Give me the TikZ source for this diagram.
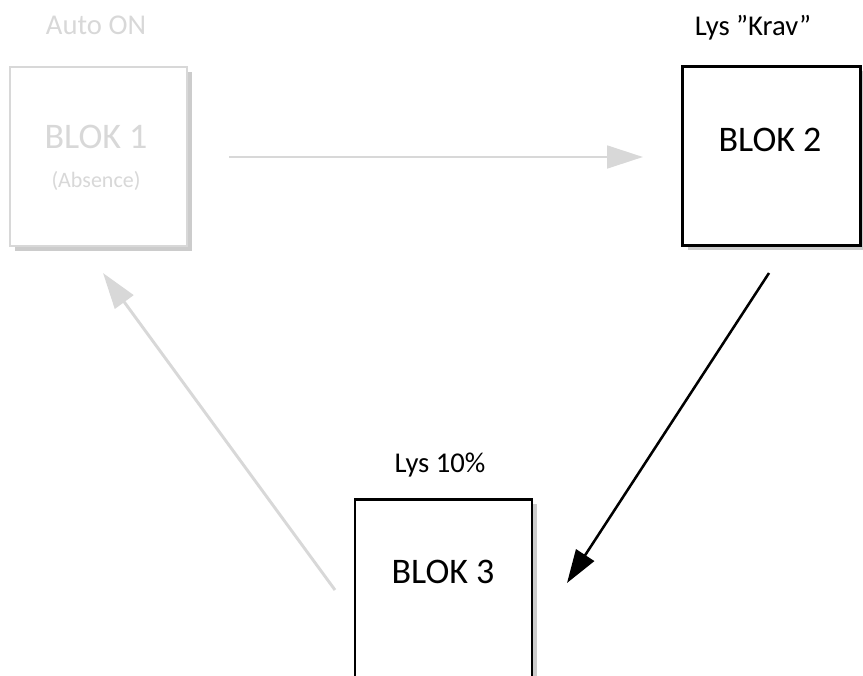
\documentclass[tikz,border=0pt]{standalone}
\usepackage{fontspec}
\setmainfont{Carlito}
\usetikzlibrary{arrows.meta,shadows}
\definecolor{fadegray}{RGB}{216,216,216}
\tikzset{every picture/.style={line width=0.75pt}}
\tikzset{
  blokbox/.style={draw, fill=white, minimum width=133pt, minimum height=134pt,
    drop shadow={shadow xshift=3.5pt, shadow yshift=-3.5pt, opacity=0.4}},
  fadearrow/.style={draw=fadegray, line width=2.2pt,
    -{Triangle[length=27pt, width=17pt, fill=fadegray]}},
  blackarrow/.style={draw=black, line width=1.9pt,
    -{Triangle[length=25pt, width=16pt]}}
}

\begin{document}
\begin{tikzpicture}[x=0.75pt,y=0.75pt,yscale=-1,xscale=1]
\useasboundingbox (0,0) rectangle (863,675);
\clip (0,0) rectangle (863,675);

%Shape: Rectangle [BLOK 1]
\node [blokbox, draw=fadegray, line width=1.6pt] (blok1) at (98.5,156.5) {};
%Shape: Rectangle [BLOK 2]
\node [blokbox, line width=2.4pt] (blok2) at (771.5,156) {};
%Shape: Rectangle [BLOK 3]
\node [blokbox, line width=1.8pt] (blok3) at (443.5,589) {};

%Straight Lines
\coordinate (a12s) at (229,157);
\coordinate (a12e) at (643,157);
\draw [fadearrow] (a12s) -- (a12e);
%Straight Lines
\coordinate (a23s) at (769,273);
\coordinate (a23e) at (567,583);
\draw [blackarrow] (a23s) -- (a23e);
%Straight Lines
\coordinate (a31s) at (335,590);
\coordinate (a31e) at (103,273);
\draw [fadearrow] (a31s) -- (a31e);

% Text Node
\node [text=fadegray, font=\fontsize{21.5}{26}\selectfont] (auto) at (96,25) {Auto ON};
% Text Node
\node [text=fadegray, font=\fontsize{27}{32}\selectfont] (t1) at (96,137) {BLOK 1};
% Text Node
\node [text=fadegray, font=\fontsize{16.5}{20}\selectfont] (abs) at (96,181) {(Absence)};
% Text Node
\node [font=\fontsize{21.5}{26}\selectfont] (krav) at (753,28) {Lys ”Krav”};
% Text Node
\node [font=\fontsize{27}{32}\selectfont] (t2) at (770,140) {BLOK 2};
% Text Node
\node [font=\fontsize{21.5}{26}\selectfont] (lys) at (440,465) {Lys 10\%};
% Text Node
\node [font=\fontsize{27}{32}\selectfont] (t3) at (443,572) {BLOK 3};

\end{tikzpicture}
\end{document}
